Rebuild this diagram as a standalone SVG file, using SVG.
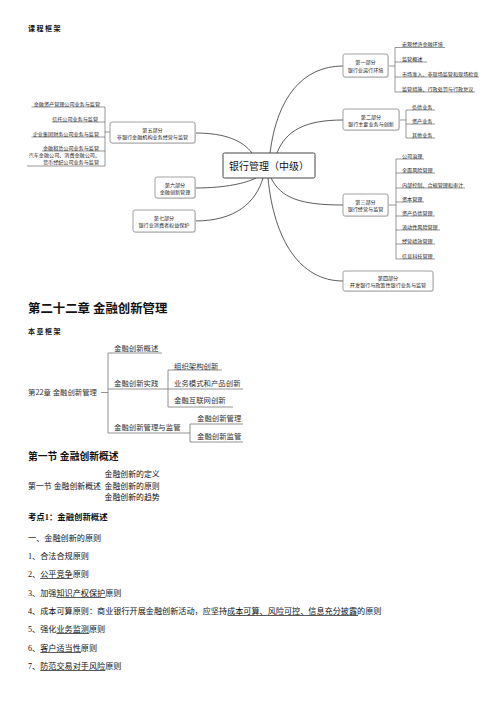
<svg xmlns="http://www.w3.org/2000/svg" width="504" height="713" viewBox="0 0 504 713">
<style>
.bg{fill:#ffffff}
.h{font-family:"Liberation Serif","Noto Sans CJK SC",serif;font-weight:bold;fill:#111}
.body{font-family:"Liberation Serif","Noto Sans CJK SC",serif;font-size:8.15px;fill:#111}
.sec{font-family:"Liberation Serif","Noto Sans CJK SC",serif;font-size:7.9px;fill:#111}
.m{font-family:"Noto Sans CJK SC","Liberation Sans",sans-serif;font-size:5.1px;fill:#222}
.mc{font-family:"Noto Sans CJK SC","Liberation Sans",sans-serif;font-size:10px;fill:#111}
.c{font-family:"Noto Sans CJK SC","Liberation Sans",sans-serif;font-size:7.4px;fill:#333}
.box{fill:#fff;stroke:#8a8a8a;stroke-width:0.8}
.shadow{fill:#e4e4e4;stroke:none}
.cbox{fill:#fff;stroke:#444;stroke-width:1}
.curve{fill:none;stroke:#333;stroke-width:0.8}
.br{fill:none;stroke:#555;stroke-width:0.6}
.cl{fill:none;stroke:#666;stroke-width:0.7}
.ul{stroke:#111;stroke-width:0.7}
</style>
<rect class="bg" x="0" y="0" width="504" height="713"/>

<text class="h" x="28" y="31" font-size="7" letter-spacing="1.5">课程框架</text>

<!-- Mind map connectors -->
<g id="mindmap-connectors">
  <path class="curve" d="M270,153 C277,97 303,66 343,66"/>
  <path class="curve" d="M277,153 C286,130 306,120 343,120"/>
  <path class="curve" d="M271,178 C281,198 300,205 343,205"/>
  <path class="curve" d="M268,178 C274,240 300,281 343,281"/>
  <path class="curve" d="M195,133 C226,133 243,141 252,153"/>
  <path class="curve" d="M195,188 C226,188 246,183 256,178"/>
  <path class="curve" d="M195,221 C236,221 256,202 263,178"/>
  <!-- part 1 leaves -->
  <path class="br" d="M388,66 H395 M395,47.5 V92 M395,47.5 H445 M395,62 H427 M395,77 H479 M395,92 H475"/>
  <!-- part 2 leaves -->
  <path class="br" d="M399,120 H406 M406,110 V138 M406,110 H435 M406,124 H435 M406,138 H435"/>
  <!-- part 3 leaves -->
  <path class="br" d="M388,205 H396 M396,159 V259 M396,159 H424 M396,173 H435 M396,188 H465 M396,202 H424 M396,216 H435 M396,230 H440 M396,244 H435 M396,259 H435"/>
  <!-- part 5 leaves -->
  <path class="br" d="M110,132 H105 M105,107 V166 M105,107 H31.5 M105,122 H52 M105,137 H31.5 M105,151 H42 M105,166 H27"/>
</g>

<g id="center">
  <rect class="cbox" x="223" y="153" width="92" height="25" rx="1.5"/>
  <text class="mc" x="269" y="169.5" text-anchor="middle">银行管理（中级）</text>
</g>

<g id="part1">
  <rect class="shadow" x="344" y="55" width="45" height="23" rx="2"/>
  <rect class="box" x="343" y="54" width="45" height="23" rx="2"/>
  <text class="m" x="365.5" y="64" text-anchor="middle">第一部分</text>
  <text class="m" x="365.5" y="71.5" text-anchor="middle">银行业运行环境</text>
</g>
<g id="part1-leaves">
  <text class="m" x="402" y="46">宏观经济金融环境</text>
  <text class="m" x="402" y="60.5">监管概述</text>
  <text class="m" x="402" y="75.5">市场准入、非现场监管和现场检查</text>
  <text class="m" x="402" y="90.5">监管措施、行政处罚与行政复议</text>
</g>

<g id="part2">
  <rect class="shadow" x="344" y="110" width="56" height="21" rx="2"/>
  <rect class="box" x="343" y="109" width="56" height="21" rx="2"/>
  <text class="m" x="371" y="118.5" text-anchor="middle">第二部分</text>
  <text class="m" x="371" y="126" text-anchor="middle">银行主要业务与创新</text>
</g>
<g id="part2-leaves">
  <text class="m" x="412" y="108.5">负债业务</text>
  <text class="m" x="412" y="122.5">资产业务</text>
  <text class="m" x="412" y="136.5">其他业务</text>
</g>

<g id="part3">
  <rect class="shadow" x="344" y="195" width="45" height="22" rx="2"/>
  <rect class="box" x="343" y="194" width="45" height="22" rx="2"/>
  <text class="m" x="365.5" y="203.5" text-anchor="middle">第三部分</text>
  <text class="m" x="365.5" y="211" text-anchor="middle">银行经营与监管</text>
</g>
<g id="part3-leaves">
  <text class="m" x="402" y="157.5">公司治理</text>
  <text class="m" x="402" y="171.5">全面风险管理</text>
  <text class="m" x="402" y="186.5">内部控制、合规管理和审计</text>
  <text class="m" x="402" y="200.5">资本管理</text>
  <text class="m" x="402" y="214.5">资产负债管理</text>
  <text class="m" x="402" y="228.5">流动性风险管理</text>
  <text class="m" x="402" y="242.5">经营绩效管理</text>
  <text class="m" x="402" y="257.5">信息科技管理</text>
</g>

<g id="part4">
  <rect class="shadow" x="344" y="272" width="90" height="20" rx="2"/>
  <rect class="box" x="343" y="271" width="90" height="20" rx="2"/>
  <text class="m" x="388" y="279.5" text-anchor="middle">第四部分</text>
  <text class="m" x="388" y="287" text-anchor="middle">开发银行与政策性银行业务与监管</text>
</g>

<g id="part5">
  <rect class="shadow" x="111" y="123" width="85" height="21" rx="2"/>
  <rect class="box" x="110" y="122" width="85" height="21" rx="2"/>
  <text class="m" x="152.5" y="131.5" text-anchor="middle">第五部分</text>
  <text class="m" x="152.5" y="139" text-anchor="middle">非银行金融机构业务经营与监管</text>
</g>
<g id="part5-leaves">
  <text class="m" x="100" y="105.5" text-anchor="end">金融资产管理公司业务与监管</text>
  <text class="m" x="98" y="120.5" text-anchor="end">信托公司业务与监管</text>
  <text class="m" x="99" y="135.5" text-anchor="end">企业集团财务公司业务与监管</text>
  <text class="m" x="99" y="149.5" text-anchor="end">金融租赁公司业务与监管</text>
  <text class="m" x="100" y="156.8" text-anchor="end">汽车金融公司、消费金融公司、</text>
  <text class="m" x="99" y="163.8" text-anchor="end">货币经纪公司业务与监管</text>
</g>

<g id="part6">
  <rect class="shadow" x="156" y="178" width="40" height="21" rx="2"/>
  <rect class="box" x="155" y="177" width="40" height="21" rx="2"/>
  <text class="m" x="175" y="186.5" text-anchor="middle">第六部分</text>
  <text class="m" x="175" y="194" text-anchor="middle">金融创新管理</text>
</g>

<g id="part7">
  <rect class="shadow" x="134" y="211" width="62" height="22" rx="2"/>
  <rect class="box" x="133" y="210" width="62" height="22" rx="2"/>
  <text class="m" x="164" y="219.5" text-anchor="middle">第七部分</text>
  <text class="m" x="164" y="227" text-anchor="middle">银行业消费者权益保护</text>
</g>

<!-- Chapter -->
<text class="h" x="28" y="312.5" font-size="12.4">第二十二章 金融创新管理</text>
<text class="h" x="28" y="334" font-size="7" letter-spacing="1.5">本章框架</text>

<g id="chapter-connectors">
  <path class="cl" d="M101,392.5 H108 M108,353 V433 M108,353 H162 M108,389 H168 M168,370 V407 M168,370 H222 M168,389 H243 M168,407 H233 M108,433 H190 M190,424 V442 M190,424 H243 M190,442 H243"/>
</g>
<g id="ch-root"><text class="c" x="28" y="395">第22章 金融创新管理</text></g>
<g id="ch-n1"><text class="c" x="114" y="350.7">金融创新概述</text></g>
<g id="ch-n2"><text class="c" x="114" y="385.7">金融创新实践</text></g>
<g id="ch-n21"><text class="c" x="174" y="368.7">组织架构创新</text></g>
<g id="ch-n22"><text class="c" x="174" y="385.7">业务模式和产品创新</text></g>
<g id="ch-n23"><text class="c" x="174" y="402.7">金融互联网创新</text></g>
<g id="ch-n3"><text class="c" x="114" y="429.7">金融创新管理与监管</text></g>
<g id="ch-n31"><text class="c" x="197" y="420.7">金融创新管理</text></g>
<g id="ch-n32"><text class="c" x="197" y="438.7">金融创新监管</text></g>

<text class="h" x="28" y="459.5" font-size="9.8">第一节 金融创新概述</text>

<text class="sec" x="104.5" y="476.8">金融创新的定义</text>
<text class="sec" x="28" y="488.8">第一节 金融创新概述</text>
<text class="sec" x="104.5" y="488.8">金融创新的原则</text>
<text class="sec" x="104.5" y="499.8">金融创新的趋势</text>

<text class="h" x="28" y="520" font-size="8.4">考点1：金融创新概述</text>

<text class="body" x="28" y="541">一、金融创新的原则</text>
<text class="body" x="28" y="559">1、合法合规原则</text>
<text class="body" x="28" y="577">2、公平竞争原则</text>
<text class="body" x="28" y="596">3、加强知识产权保护原则</text>
<text class="body" x="28" y="614">4、成本可算原则：商业银行开展金融创新活动，应坚持成本可算、风险可控、信息充分披露的原则</text>
<text class="body" x="28" y="632">5、强化业务监测原则</text>
<text class="body" x="28" y="651">6、客户适当性原则</text>
<text class="body" x="28" y="669">7、防范交易对手风险原则</text>
<g id="underlines">
  <line class="ul" x1="40.2" y1="578.5" x2="72.8" y2="578.5"/>
  <line class="ul" x1="56.5" y1="597.5" x2="105.4" y2="597.5"/>
  <line class="ul" x1="227.6" y1="615.5" x2="358" y2="615.5"/>
  <line class="ul" x1="56.5" y1="633.5" x2="89.1" y2="633.5"/>
  <line class="ul" x1="40.2" y1="652.5" x2="81" y2="652.5"/>
  <line class="ul" x1="40.2" y1="670.5" x2="105.4" y2="670.5"/>
</g>
</svg>
